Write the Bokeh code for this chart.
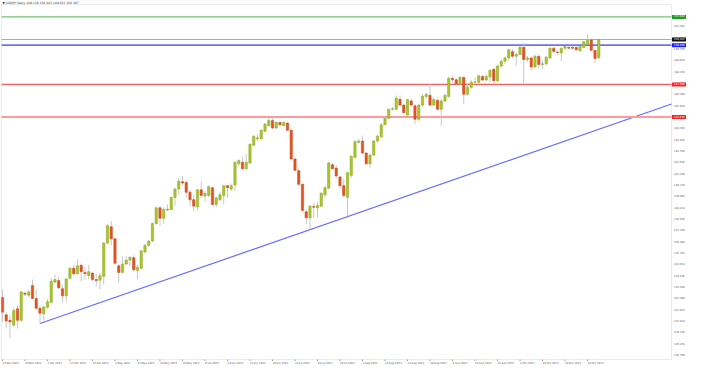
from bokeh.plotting import figure
from bokeh.models import ColumnDataSource, Range1d, BoxAnnotation
from bokeh.core.properties import value
from bokeh.embed import file_html
from bokeh.resources import INLINE

# ---------------- data (USDJPY daily, 22 Mar 2023 - 31 Oct 2023) ----------------
opens = [132.67, 131.48, 131.10, 130.77, 131.89, 131.10, 132.96, 132.83, 133.50, 132.60,
         131.93, 131.55, 132.00, 132.33, 133.72, 133.83, 133.27, 132.78, 133.99, 134.68,
         134.30, 134.88, 134.39, 134.17, 134.35, 133.90, 133.86, 134.12, 136.41, 137.53,
         136.70, 134.84, 134.39, 134.97, 135.24, 135.40, 134.53, 134.68, 135.80, 136.25,
         136.54, 137.75, 138.83, 138.11, 138.67, 138.71, 139.54, 140.12, 140.62, 140.57,
         139.90, 139.38, 138.89, 140.06, 139.63, 139.68, 140.21, 139.05, 139.38, 139.68,
         140.35, 140.12, 140.39, 141.85, 141.96, 141.51, 141.91, 143.12, 143.57, 143.57,
         144.09, 144.47, 144.82, 144.31, 144.69, 144.47, 144.65, 144.15, 142.18, 141.38,
         140.44, 138.56, 138.15, 138.91, 138.82, 138.94, 139.72, 140.17, 141.78, 141.56,
         140.95, 140.35, 139.54, 141.06, 142.29, 143.32, 143.41, 142.59, 141.85, 142.45,
         143.41, 143.70, 144.53, 144.98, 145.59, 145.59, 146.28, 145.88, 145.20, 146.17,
         145.83, 144.91, 145.88, 146.48, 146.55, 145.88, 146.21, 145.59, 146.17, 146.48,
         147.72, 147.62, 147.33, 147.78, 146.62, 147.10, 147.45, 147.45, 147.85, 147.60,
         147.82, 148.34, 147.56, 148.56, 148.90, 149.12, 149.55, 149.24, 149.35, 149.86,
         149.01, 149.12, 148.50, 149.23, 148.67, 148.72, 149.12, 149.79, 149.53, 149.46,
         149.79, 149.84, 149.85, 149.84, 149.62, 149.84, 150.06, 150.35, 149.64, 149.136]
highs = [133.23, 131.66, 131.44, 132.00, 132.11, 133.12, 133.09, 133.23, 133.90, 133.23,
         132.11, 132.11, 132.56, 134.01, 134.24, 134.12, 133.56, 134.01, 134.75, 134.91,
         135.29, 135.02, 134.80, 134.91, 134.39, 134.30, 134.35, 136.47, 137.71, 137.93,
         136.77, 134.97, 135.47, 135.51, 135.51, 135.58, 134.91, 135.91, 136.36, 136.63,
         137.82, 138.87, 138.94, 138.87, 139.05, 139.61, 140.21, 140.88, 141.02, 140.73,
         140.06, 139.72, 140.12, 140.62, 139.94, 140.39, 140.28, 139.61, 139.94, 140.39,
         140.39, 140.50, 142.00, 142.18, 142.36, 142.52, 143.26, 143.79, 143.86, 144.24,
         144.65, 144.98, 145.07, 144.78, 144.76, 144.76, 144.69, 144.24, 142.29, 141.51,
         140.50, 138.71, 139.05, 139.16, 139.23, 139.90, 140.35, 142.00, 141.91, 141.74,
         141.02, 140.84, 141.29, 142.45, 143.48, 143.57, 143.79, 142.68, 142.55, 143.48,
         143.86, 144.65, 145.09, 145.65, 145.76, 146.55, 146.55, 145.99, 146.32, 146.32,
         145.94, 145.99, 146.66, 146.77, 147.37, 146.44, 146.32, 146.32, 146.66, 147.85,
         147.88, 147.75, 147.87, 147.87, 147.40, 147.60, 147.78, 148.00, 147.95, 148.00,
         148.34, 148.45, 148.65, 149.00, 149.20, 149.75, 149.70, 149.50, 149.95, 150.16,
         149.25, 149.20, 149.35, 149.35, 148.95, 149.25, 149.83, 149.85, 149.65, 149.85,
         149.95, 149.95, 149.96, 149.95, 149.95, 150.28, 150.73, 150.47, 149.68, 150.443]
lows = [130.99, 130.54, 129.87, 130.65, 130.54, 130.99, 132.78, 132.67, 132.56, 131.84,
        130.88, 131.10, 131.89, 132.29, 133.68, 133.23, 132.33, 132.33, 133.90, 134.24,
        134.24, 133.79, 133.90, 133.90, 133.79, 133.45, 133.23, 133.56, 136.32, 136.25,
        134.91, 133.68, 134.35, 134.91, 134.80, 134.46, 133.94, 134.57, 135.69, 136.14,
        136.47, 137.66, 137.59, 137.71, 138.60, 138.65, 138.94, 139.72, 140.39, 139.50,
        138.94, 138.60, 138.65, 139.50, 139.27, 139.54, 139.00, 138.87, 139.27, 139.05,
        139.50, 139.99, 139.99, 141.69, 141.40, 141.47, 141.82, 143.08, 143.41, 143.53,
        144.02, 144.42, 144.24, 144.24, 144.42, 144.42, 144.06, 142.09, 141.33, 140.35,
        138.56, 137.71, 137.40, 138.15, 138.15, 138.87, 139.54, 140.12, 141.47, 140.84,
        140.17, 139.54, 138.26, 140.88, 142.23, 143.30, 142.52, 141.78, 141.55, 142.40,
        143.30, 143.64, 144.53, 144.91, 145.50, 145.54, 145.81, 145.32, 145.14, 145.76,
        144.60, 144.76, 145.76, 146.32, 145.81, 145.81, 145.50, 144.45, 146.10, 146.40,
        147.40, 147.25, 147.25, 145.94, 146.55, 147.00, 147.30, 147.33, 147.55, 147.55,
        147.44, 147.38, 147.45, 148.45, 148.70, 148.95, 149.10, 148.56, 149.30, 147.30,
        148.85, 148.27, 148.40, 148.41, 148.35, 148.60, 149.05, 149.45, 149.35, 148.90,
        149.65, 149.70, 149.68, 149.60, 149.50, 149.80, 150.00, 149.57, 148.79, 149.013]
closes = [131.66, 131.06, 130.99, 131.77, 131.10, 133.05, 132.89, 133.05, 132.60, 131.93,
          131.59, 132.02, 132.38, 133.79, 133.90, 133.34, 132.78, 133.94, 134.68, 134.30,
          134.84, 134.44, 134.30, 134.44, 133.90, 133.83, 134.17, 136.41, 137.59, 136.70,
          135.02, 134.39, 134.97, 135.24, 135.42, 134.57, 134.75, 135.87, 136.25, 136.54,
          137.75, 138.83, 138.11, 138.71, 138.74, 139.54, 140.12, 140.66, 140.53, 139.90,
          139.38, 138.94, 140.06, 139.68, 139.81, 140.28, 139.05, 139.50, 139.72, 140.35,
          140.21, 140.35, 141.96, 142.07, 141.51, 141.96, 143.19, 143.75, 143.64, 144.15,
          144.58, 144.82, 144.31, 144.69, 144.53, 144.69, 144.15, 142.18, 141.40, 140.44,
          138.65, 138.15, 138.94, 138.87, 139.00, 139.83, 140.21, 141.91, 141.51, 141.02,
          140.35, 139.68, 141.24, 142.36, 143.37, 143.41, 142.59, 141.85, 142.45, 143.41,
          143.75, 144.53, 144.98, 145.59, 145.63, 146.37, 145.88, 145.36, 146.26, 145.88,
          144.91, 145.88, 146.50, 146.62, 145.88, 146.26, 145.59, 146.17, 146.55, 147.72,
          147.62, 147.33, 147.78, 146.62, 147.10, 147.45, 147.48, 147.89, 147.60, 147.85,
          148.27, 147.56, 148.56, 148.90, 149.12, 149.68, 149.24, 149.35, 149.86, 149.01,
          149.12, 148.50, 149.23, 148.67, 148.72, 149.17, 149.79, 149.57, 149.50, 149.79,
          149.91, 149.79, 149.78, 149.68, 149.91, 150.24, 150.35, 149.64, 149.08, 150.387]

date_tick_bars = [0, 6, 12, 18, 24, 30, 36, 42, 48, 54, 60, 66, 72, 78, 84, 90, 96,
                  102, 108, 114, 120, 126, 132, 138, 144, 150, 156]
date_labels = ["22 Mar 2023", "30 Mar 2023", "7 Apr 2023", "17 Apr 2023", "25 Apr 2023",
               "3 May 2023", "11 May 2023", "19 May 2023", "29 May 2023", "6 Jun 2023",
               "14 Jun 2023", "22 Jun 2023", "30 Jun 2023", "10 Jul 2023", "18 Jul 2023",
               "26 Jul 2023", "3 Aug 2023", "11 Aug 2023", "21 Aug 2023", "29 Aug 2023",
               "6 Sep 2023", "14 Sep 2023", "22 Sep 2023", "2 Oct 2023", "10 Oct 2023",
               "18 Oct 2023", "26 Oct 2023"]
price_ticks = [128.700, 129.478, 130.256, 131.034, 131.812, 132.590, 133.368, 134.146,
               134.924, 135.702, 136.480, 137.258, 138.036, 138.814, 139.592, 140.370,
               141.148, 141.926, 142.704, 143.482, 144.260, 145.038, 145.816, 146.594,
               147.372, 148.150, 148.928, 149.706, 150.484, 151.262]

# horizontal levels, the bid line and the rising trend line
level_prices = [151.940, 150.000, 147.300, 145.070]
level_colors = ["#74c474", "#7070ff", "#ff5a5a", "#ff9a9a"]
level_widths = [1.2, 1.6, 1.2, 2.0]
box_colors = ["#1e9a1e", "#1f1fff", "#ff2020", "#ff2020"]
bid_price = 150.387
trend_bars = [10, 178.4]
trend_prices = [130.88, 145.96]
title_text = "\u25bc USDJPY,Daily  149.136 150.443 149.013 150.387"

# ---------------- layout (the whole canvas is one frame) ----------------
W, H = 687, 366
FONT = "DejaVu Sans"
XIN0, XIN1 = -0.26, 178.4          # chart box, in bars
YIN0, YIN1 = 128.41, 152.79        # chart box, in price
BPX = 670.0 / (XIN1 - XIN0)        # px per bar
YPX = 355.0 / (YIN1 - YIN0)        # px per yen
X0, X1 = XIN0 - 1 / BPX, XIN1 + 16 / BPX
Y0, Y1 = YIN0 - 7 / YPX, YIN1 + 4 / YPX

p = figure(width=W, height=H, output_backend="svg", toolbar_location=None,
           x_range=Range1d(X0, X1), y_range=Range1d(Y0, Y1),
           min_border=0, min_border_left=0, min_border_right=0,
           min_border_top=0, min_border_bottom=0)
p.axis.visible = False
p.grid.visible = False
p.outline_line_color = None
p.background_fill_color = "white"
p.border_fill_color = "white"

# chart box
p.add_layout(BoxAnnotation(left=XIN0, right=XIN1, bottom=YIN0, top=YIN1,
                           fill_color=None, line_color="#bcbcbc", line_width=1))

# trend line and horizontal levels (behind candles)
p.line(x=trend_bars, y=trend_prices, line_color="#6a6aff", line_width=1.2)
for lv, col, lw in zip(level_prices, level_colors, level_widths):
    p.segment(x0=XIN0, y0=lv, x1=XIN1, y1=lv, line_color=col, line_width=lw)
p.segment(x0=XIN0, y0=bid_price, x1=XIN1, y1=bid_price, line_color="#a6a6d2", line_width=1)

# candles
idx = list(range(len(opens)))
up = [c >= o for o, c in zip(opens, closes)]
src = ColumnDataSource(dict(
    x=idx, o=opens, h=highs, l=lows, c=closes,
    top=[max(o, c) for o, c in zip(opens, closes)],
    bot=[min(o, c) for o, c in zip(opens, closes)],
    fill=["#a8c82a" if u else "#e5531f" for u in up],
    edge=["#8aa51c" if u else "#c9461a" for u in up],
))
p.segment(x0="x", y0="l", x1="x", y1="h", source=src, line_color="#c8c8c8", line_width=1)
p.vbar(x="x", width=0.62, top="top", bottom="bot", source=src,
       fill_color="fill", line_color="edge", line_width=0.5)

# price scale on the right
lab_x = XIN1 + 2.5 / BPX
p.text(x=[lab_x] * len(price_ticks), y=price_ticks, text=["%.3f" % v for v in price_ticks],
       text_font=value(FONT), text_font_size=value("2.6px"), text_color="#555555",
       text_align="left", text_baseline="middle")

# coloured price boxes
box_prices = level_prices + [bid_price]
box_fill = box_colors + ["#111111"]
box_cx = XIN1 + 7.5 / BPX
p.rect(x=[box_cx] * len(box_prices), y=box_prices, width=14, height=4,
       width_units="screen", height_units="screen", fill_color=box_fill, line_color=None)
p.text(x=[lab_x] * len(box_prices), y=box_prices, text=["%.3f" % v for v in box_prices],
       text_font=value(FONT), text_font_size=value("2.6px"), text_color="white",
       text_align="left", text_baseline="middle")

# date scale below
tick_y0 = YIN0
tick_y1 = YIN0 - 1.5 / YPX
p.segment(x0=date_tick_bars, y0=[tick_y0] * len(date_tick_bars),
          x1=date_tick_bars, y1=[tick_y1] * len(date_tick_bars),
          line_color="#9a9a9a", line_width=1)
p.text(x=date_tick_bars, y=[YIN0 - 2.5 / YPX] * len(date_tick_bars), text=date_labels,
       text_font=value(FONT), text_font_size=value("2.6px"), text_color="#555555",
       text_align="left", text_baseline="top")

# chart title in the top-left corner
p.text(x=[XIN0 + 1 / BPX], y=[YIN1 + 2 / YPX], text=[title_text],
       text_font=value(FONT), text_font_size=value("3px"), text_color="#333333",
       text_align="left", text_baseline="middle")

open("out.html", "w").write(file_html(p, INLINE))
